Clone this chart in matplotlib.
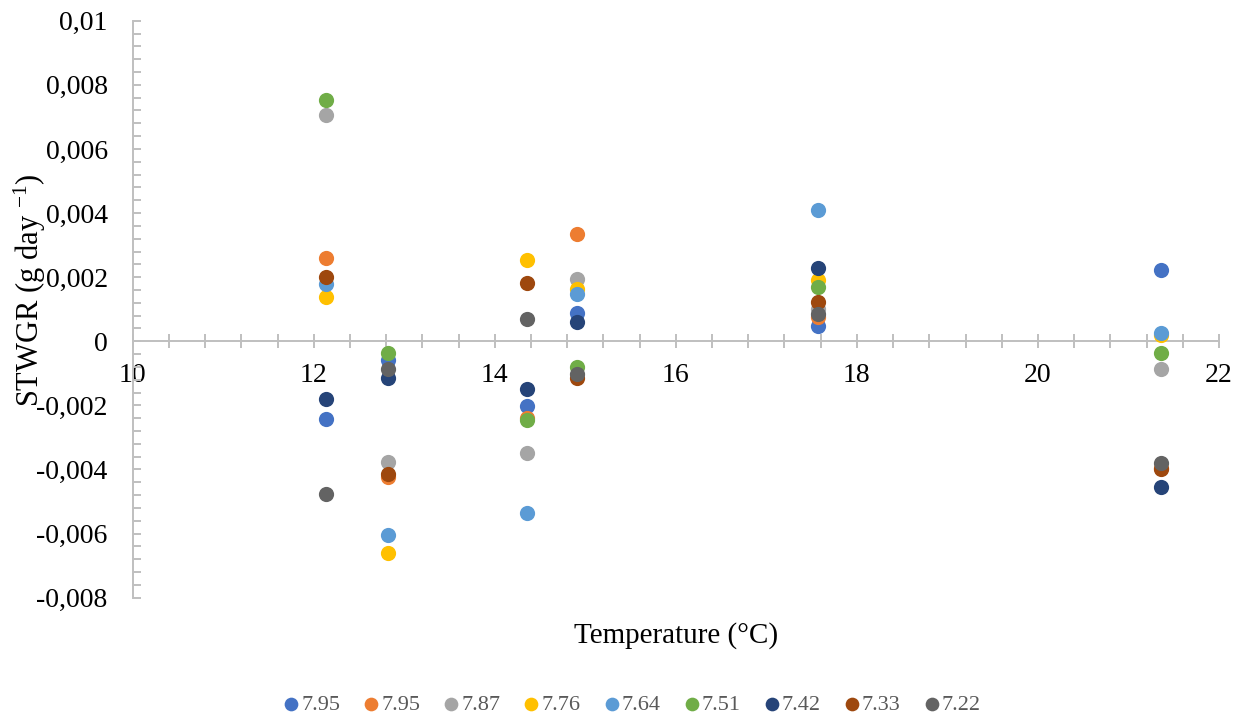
import matplotlib
matplotlib.use("Agg")
import matplotlib.pyplot as plt
from matplotlib.ticker import MultipleLocator, FuncFormatter

plt.rcParams['font.family'] = ['Liberation Serif', 'DejaVu Serif']
plt.rcParams['mathtext.fontset'] = 'custom'
plt.rcParams['mathtext.rm'] = 'Liberation Serif'
plt.rcParams['mathtext.it'] = 'Liberation Serif:italic'

temperatures = [12.14, 12.82, 14.36, 14.91, 17.57, 21.36]
series_labels = ["7.95", "7.95", "7.87", "7.76", "7.64", "7.51", "7.42", "7.33", "7.22"]
s_795a = [-0.00242, -0.00059, -0.00203, 0.00088, 0.00047, 0.00221]
s_795b = [0.00261, -0.00423, -0.00238, 0.00336, 0.00076, -0.00395]
s_787 = [0.00705, -0.00376, -0.00348, 0.00193, 0.00102, -0.00088]
s_776 = [0.00138, -0.00659, 0.00253, 0.00164, 0.00192, 0.00019]
s_764 = [0.00178, -0.00605, -0.00536, 0.00146, 0.00411, 0.00026]
s_751 = [0.00754, -0.00036, -0.00246, -0.00080, 0.00169, -0.00038]
s_742 = [-0.00181, -0.00114, -0.00149, 0.00060, 0.00230, -0.00454]
s_733 = [0.00201, -0.00413, 0.00182, -0.00116, 0.00123, -0.00397]
s_722 = [-0.00478, -0.00085, 0.00068, -0.00101, 0.00086, -0.00380]
series_values = [s_795a, s_795b, s_787, s_776, s_764, s_751, s_742, s_733, s_722]
colors = ["#4472C4", "#ED7D31", "#A5A5A5", "#FFC000", "#5B9BD5",
          "#70AD47", "#264478", "#9E480E", "#636363"]

fig = plt.figure(figsize=(12.45, 7.2), dpi=100)
ax = fig.add_axes([132.7 / 1245, 1 - 597.7 / 720, (1219 - 132.7) / 1245, (597.7 - 20.7) / 720])

for vals, lab, col in zip(series_values, series_labels, colors):
    ax.scatter(temperatures, vals, s=120, color=col, label=lab, zorder=3, linewidths=0)

ax.set_xlim(10, 22)
ax.set_ylim(-0.008, 0.01)
ax.xaxis.set_major_locator(MultipleLocator(2))
ax.xaxis.set_minor_locator(MultipleLocator(0.4))
ax.yaxis.set_major_locator(MultipleLocator(0.002))
ax.yaxis.set_minor_locator(MultipleLocator(0.0004))


def yfmt(v, pos):
    v = round(v, 5)
    if v == 0:
        return "0"
    return f"{v:g}".replace('.', ',')


ax.yaxis.set_major_formatter(FuncFormatter(yfmt))
ax.xaxis.set_major_formatter(FuncFormatter(lambda v, p: f"{v:g}"))

for side in ['top', 'right']:
    ax.spines[side].set_visible(False)
ax.spines['bottom'].set_position(('data', 0))
axis_col = "#BFBFBF"
ax.spines['bottom'].set_color(axis_col)
ax.spines['left'].set_color(axis_col)
ax.spines['bottom'].set_linewidth(1.4)
ax.spines['left'].set_linewidth(1.4)

ax.tick_params(axis='x', which='both', direction='inout', length=10, width=1.4,
               color=axis_col, labelsize=20, pad=11)
ax.tick_params(axis='y', which='both', direction='in', length=6, width=1.4,
               color=axis_col, labelsize=20, pad=18)

fig.text(676 / 1245, 1 - 636 / 720, "Temperature (°C)", ha='center', va='center', fontsize=21)
fig.text(30 / 1245, 1 - 290 / 720, r"STWGR (g day $^{\mathregular{-1}}$)", ha='center', va='center',
         rotation=90, fontsize=22)

leg = fig.legend(loc='center', bbox_to_anchor=(632 / 1245, 1 - 705 / 720), ncol=9, frameon=False,
                 fontsize=16, handletextpad=0.1, columnspacing=1.05, handlelength=0.7,
                 markerscale=0.9)
for t in leg.get_texts():
    t.set_color("#595959")

fig.savefig("out.png", dpi=100)
